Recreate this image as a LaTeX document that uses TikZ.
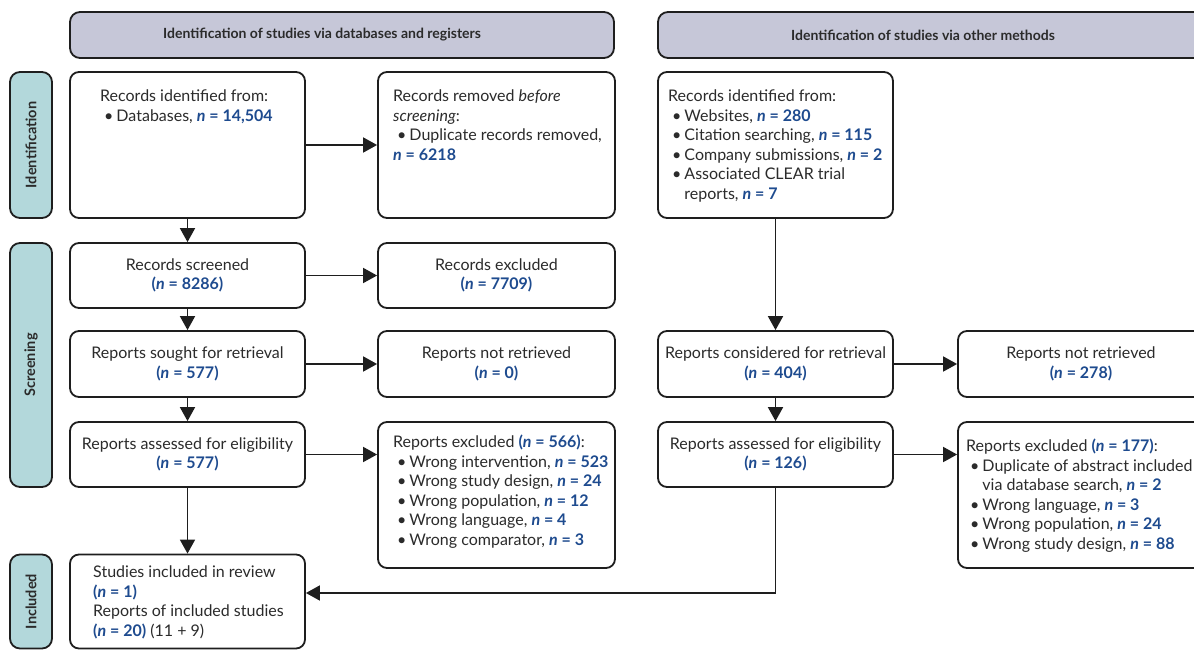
\documentclass[tikz,border=0pt]{standalone}
\usepackage{fontspec}
\setmainfont{Lato}
\usetikzlibrary{arrows.meta,calc}
\definecolor{hdrfill}{HTML}{C6C7D8}
\definecolor{sidefill}{HTML}{B3D8DB}
\definecolor{nblue}{HTML}{1E4B8F}
\definecolor{txtc}{HTML}{2B2B2B}
\definecolor{edgec}{HTML}{1E1E1E}
\newcommand{\nv}[1]{\textcolor{nblue}{\bfseries #1}}
\newcommand{\nit}{\textit{n}}
\newcommand{\fsz}{\fontsize{16}{19.5}\selectfont}
\newcommand{\bl}{\hspace*{4pt}\textbullet\hspace{3pt}}
\newcommand{\blc}{\hspace*{4pt}\phantom{\textbullet}\hspace{3pt}}
\begin{document}
\begin{tikzpicture}[x=1pt,y=-1pt,
  box/.style={draw=edgec, line width=1.8pt, rounded corners=9pt, fill=white, inner sep=0pt},
  ctext/.style={align=center, text=txtc, font=\fsz},
  ltext/.style={align=left, text=txtc, font=\fsz, anchor=north west, inner sep=0pt},
  hdrbox/.style={draw=edgec, line width=1.8pt, rounded corners=10pt, fill=hdrfill, minimum height=46pt},
  hdrtext/.style={text=txtc, font=\fontsize{14}{16}\selectfont\bfseries, inner sep=0pt},
  sidebox/.style={draw=edgec, line width=1.8pt, rounded corners=10pt, fill=sidefill, text=txtc, font=\fontsize{14.5}{16}\selectfont\bfseries, rotate=90, minimum height=42pt, inner sep=0pt},
  arr/.style={draw=edgec, line width=1.8pt, -{Triangle[length=14pt,width=15pt]}}]
\useasboundingbox (0,0) rectangle (1194,650);
\clip (0,0) rectangle (1194,650);
% headers
\node[hdrbox, minimum width=544pt] (h1) at (342,35) {};
\node[hdrtext] (h1t) at (322,35) {Identification of studies via databases and registers};
\node[hdrbox, minimum width=552pt] (h2) at (934,35) {};
\node[hdrtext] (h2t) at (923,35) {Identification of studies via other methods};
% side labels
\node[sidebox, minimum width=146pt] (s1) at (31,145) {Identification};
\node[sidebox, minimum width=244pt] (s2) at (31,365) {Screening};
\node[sidebox, minimum width=94pt] (s3) at (31,601.5) {Included};
% row 1
\node[box, minimum width=235pt, minimum height=146pt] (A) at (187.5,145) {};
\node[ltext] (At) at (100,88) {\strut Records identified from:\\\bl Databases, \nv{\nit{} = 14,504}};
\node[box, minimum width=237pt, minimum height=146pt] (B) at (496.5,145) {};
\node[ltext] (Bt) at (393,88) {\strut Records removed \textit{before}\\\textit{screening}:\\\bl Duplicate records removed,\\\nv{\nit{} = 6218}};
\node[box, minimum width=235pt, minimum height=146pt] (C) at (775.5,145) {};
\node[ltext] (Ct) at (668,88) {\strut Records identified from:\\\bl Websites, \nv{\nit{} = 280}\\\bl Citation searching, \nv{\nit{} = 115}\\\bl Company submissions, \nv{\nit{} = 2}\\\bl Associated CLEAR trial\\\blc reports, \nv{\nit{} = 7}};
% row 2
\node[box, ctext, minimum width=235pt, minimum height=65pt] (scr) at (187.5,275.5) {Records screened\\\nv{(\nit{} = 8286)}};
\node[box, ctext, minimum width=237pt, minimum height=65pt] (rex) at (496.5,275.5) {Records excluded\\\nv{(\nit{} = 7709)}};
% row 3
\node[box, ctext, minimum width=235pt, minimum height=66pt] (sou) at (187.5,364) {Reports sought for retrieval\\\nv{(\nit{} = 577)}};
\node[box, ctext, minimum width=237pt, minimum height=66pt] (nr0) at (496.5,364) {Reports not retrieved\\\nv{(\nit{} = 0)}};
\node[box, ctext, minimum width=235pt, minimum height=66pt] (con) at (775.5,364) {Reports considered for retrieval\\\nv{(\nit{} = 404)}};
\node[box, ctext, minimum width=246pt, minimum height=66pt] (nr2) at (1081,364) {Reports not retrieved\\\nv{(\nit{} = 278)}};
% row 4
\node[box, ctext, minimum width=235pt, minimum height=65pt] (asL) at (187.5,454.5) {Reports assessed for eligibility\\\nv{(\nit{} = 577)}};
\node[box, minimum width=237pt, minimum height=146pt] (exL) at (496.5,495) {};
\node[ltext] (exLt) at (393,434) {\strut Reports excluded \nv{(\nit{} = 566)}:\\\bl Wrong intervention, \nv{\nit{} = 523}\\\bl Wrong study design, \nv{\nit{} = 24}\\\bl Wrong population, \nv{\nit{} = 12}\\\bl Wrong language, \nv{\nit{} = 4}\\\bl Wrong comparator, \nv{\nit{} = 3}};
\node[box, ctext, minimum width=235pt, minimum height=65pt] (asR) at (775.5,454.5) {Reports assessed for eligibility\\\nv{(\nit{} = 126)}};
\node[box, minimum width=246pt, minimum height=146pt] (exR) at (1081,495) {};
\node[ltext] (exRt) at (966,438) {\strut Reports excluded \nv{(\nit{} = 177)}:\\\bl Duplicate of abstract included\\\blc via database search, \nv{\nit{} = 2}\\\bl Wrong language, \nv{\nit{} = 3}\\\bl Wrong population, \nv{\nit{} = 24}\\\bl Wrong study design, \nv{\nit{} = 88}};
% row 5
\node[box, minimum width=235pt, minimum height=94pt] (inc) at (187.5,601.5) {};
\node[ltext] (inct) at (93,564) {\strut Studies included in review\\\nv{(\nit{} = 1)}\\Reports of included studies\\\nv{(\nit{} = 20)} (11 + 9)};
% connectors
\draw[arr] (A.east) -- (B.west);
\draw[arr] (A.south) -- (scr.north);
\draw[arr] (scr.east) -- (rex.west);
\draw[arr] (scr.south) -- (sou.north);
\draw[arr] (sou.east) -- (nr0.west);
\draw[arr] (sou.south) -- (asL.north);
\draw[arr] (asL.east) -- (asL.east -| exL.west);
\draw[arr] (asL.south) -- (inc.north);
\draw[arr] (C.south) -- (con.north);
\draw[arr] (con.east) -- (nr2.west);
\draw[arr] (con.south) -- (asR.north);
\draw[arr] (asR.east) -- (asR.east -| exR.west);
\coordinate (jn) at (775.5,593);
\draw[arr] (asR.south) -- (jn) -- (jn -| inc.east);
\end{tikzpicture}
\end{document}
